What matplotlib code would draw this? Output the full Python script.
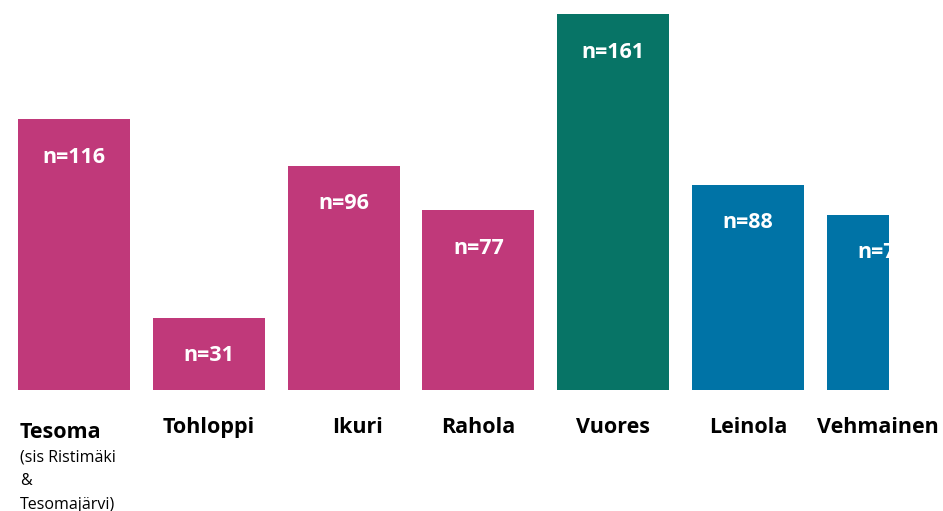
import numpy as np
import matplotlib.pyplot as plt

plt.rcParams['font.family'] = ['Open Sans', 'DejaVu Sans']

areas = ['Tesoma', 'Tohloppi', 'Ikuri', 'Rahola', 'Vuores', 'Leinola', 'Vehmainen']
counts = [116, 31, 96, 77, 161, 88, 75]
colors = ['#C0397A', '#C0397A', '#C0397A', '#C0397A', '#077466', '#0073A6', '#0073A6']
label_shift = [0, 0, 0.1, 0, 0, 0, 0]
tesoma_note = '(sis Ristimäki\n&\nTesomajärvi)'

W, H = 943, 511
fig = plt.figure(figsize=(W / 100, H / 100), dpi=100)
# axes spans the figure up to the clipped right edge
ax = fig.add_axes([0, 0, 889 / W, 1])
step = 134.8
ax.set_xlim(-74 / step, (889 - 74) / step)
scale = 2.335
ax.set_ylim(-(H - 390) / scale, 390 / scale)
ax.axis('off')

x = np.arange(len(areas))
ax.bar(x, counts, width=112 / step, color=colors)

for xi, n in zip(x, counts):
    ax.text(xi, n - 38 / scale, f'n={n}', color='white', fontsize=15.5,
            fontweight='bold', ha='center', va='center', clip_on=True)

for xi, name, dx in zip(x[1:], areas[1:], label_shift[1:]):
    t = ax.text(xi + dx, -37 / scale, name, color='black', fontsize=15.5,
                fontweight='bold', ha='center', va='center')
    if name == 'Vehmainen':
        t.set_ha('left')
        t.set_x(xi - 66 / step)

ax.text(-54 / step, -42 / scale, areas[0], color='black', fontsize=15.5,
        fontweight='bold', ha='left', va='center')
ax.text(-54 / step, -59 / scale, tesoma_note, color='black', fontsize=11.5,
        ha='left', va='top', linespacing=1.65)

fig.savefig('out.png', dpi=100)
